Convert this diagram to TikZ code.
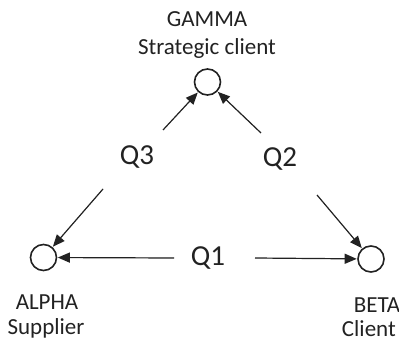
\documentclass[tikz,border=0pt]{standalone}
\usepackage{fontspec}
\setmainfont{Carlito}
\usetikzlibrary{arrows.meta}
\definecolor{ink}{HTML}{222222}
\begin{document}
\begin{tikzpicture}[x=1pt,y=1pt,
  party/.style={circle,draw=ink,line width=1.6pt,minimum size=26pt,inner sep=0pt},
  partytext/.style={font=\fontsize{23}{27}\selectfont,text=ink,inner sep=0pt},
  qlabel/.style={font=\fontsize{29}{33}\selectfont,text=ink,inner sep=0pt},
  flow/.style={-{Triangle[length=12pt,width=10pt]},draw=ink,fill=ink,line width=1.2pt,shorten >=0.5pt}]
\useasboundingbox (0,0) rectangle (399,-344);
\node[party] (gamma) at (207.5,-82) {};
\node[party] (alpha) at (43.5,-257.5) {};
\node[party] (beta) at (371,-259) {};
\node[partytext] (gt1) at (207,-19) {GAMMA};
\node[partytext] (gt2) at (207,-48) {Strategic client};
\node[partytext] (at1) at (47,-302) {ALPHA};
\node[partytext] (at2) at (46,-328) {Supplier};
\node[partytext] (bt1) at (377,-305) {BETA};
\node[partytext,anchor=east] (bt2) at (396,-329) {Client};
\node[qlabel] (q1) at (208,-258) {Q1};
\node[qlabel] (q2) at (280,-159) {Q2};
\node[qlabel] (q3) at (137,-157) {Q3};
\coordinate (s3g) at (163,-130);
\coordinate (s2g) at (261,-133);
\coordinate (s3a) at (103,-189);
\coordinate (s2b) at (317,-195);
\coordinate (s1a) at (174,-258);
\coordinate (s1b) at (255,-258);
\draw[flow] (s3g) -- (gamma);
\draw[flow] (s2g) -- (gamma);
\draw[flow] (s3a) -- (alpha);
\draw[flow] (s2b) -- (beta);
\draw[flow] (s1a) -- (alpha);
\draw[flow] (s1b) -- (beta);
\end{tikzpicture}
\end{document}
